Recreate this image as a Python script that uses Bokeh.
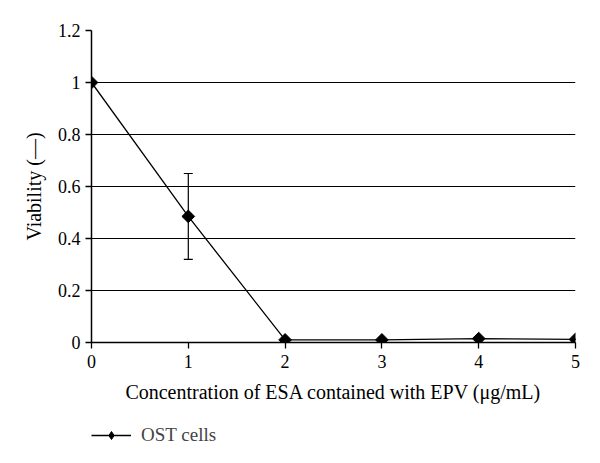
import math
from bokeh.plotting import figure
from bokeh.layouts import column
from bokeh.models import ColumnDataSource, Whisker, TeeHead, Legend, LegendItem, Range1d, FixedTicker
from bokeh.embed import file_html
from bokeh.resources import INLINE

conc = [0, 1, 2, 3, 4, 5]
viability = [1.0, 0.485, 0.01, 0.01, 0.015, 0.012]
err_lower = [1.0, 0.32, 0.01, 0.01, 0.015, 0.012]
err_upper = [1.0, 0.65, 0.01, 0.01, 0.015, 0.012]
x_ticks = [0, 1, 2, 3, 4, 5]
y_ticks = [0, 0.2, 0.4, 0.6, 0.8, 1.0, 1.2]
series_name = "OST cells"

FONT = "Liberation Serif"

p = figure(frame_width=484, frame_height=312, output_backend="svg", toolbar_location=None,
           x_range=Range1d(0, 5), y_range=Range1d(0, 1.2),
           min_border_left=91, min_border_right=17, min_border_top=30, min_border_bottom=68)
p.outline_line_color = None
p.background_fill_color = "white"

src = ColumnDataSource(dict(x=conc, y=viability, lo=err_lower, hi=err_upper))
w = Whisker(base="x", upper="hi", lower="lo", source=src, line_color="black", line_width=1.2,
            upper_head=TeeHead(size=9, line_color="black", line_width=1.2),
            lower_head=TeeHead(size=9, line_color="black", line_width=1.2))
p.add_layout(w)

ln = p.line("x", "y", source=src, line_color="black", line_width=1.3)
sc = p.scatter("x", "y", source=src, marker="square", angle=math.pi / 4, size=9,
               fill_color="black", line_color="black")

p.xgrid.visible = False
p.ygrid.grid_line_color = "black"
p.ygrid.grid_line_width = 1
p.ygrid.ticker = FixedTicker(ticks=y_ticks)

p.xaxis.ticker = FixedTicker(ticks=x_ticks)
p.yaxis.ticker = FixedTicker(ticks=y_ticks)
p.yaxis.major_label_overrides = {0: "0", 1.0: "1"}
for ax in (p.xaxis[0], p.yaxis[0]):
    ax.axis_line_color = "black"
    ax.axis_line_width = 1.5
    ax.major_tick_line_color = "black"
    ax.major_tick_line_width = 1.3
    ax.major_tick_in = 0
    ax.major_tick_out = 6
    ax.minor_tick_line_color = None
    ax.major_label_text_font = FONT
    ax.major_label_text_font_size = "18px"
    ax.major_label_text_color = "black"
    ax.axis_label_text_font = FONT
    ax.axis_label_text_font_size = "20px"
    ax.axis_label_text_font_style = "normal"
    ax.axis_label_text_color = "black"

p.xaxis.axis_label = "Concentration of ESA contained with EPV (\u03bcg/mL)"
p.yaxis.axis_label = "Viability (\u2014)"
p.xaxis.major_label_standoff = 6
p.xaxis.axis_label_standoff = 10
p.yaxis.major_label_standoff = 5
p.yaxis.axis_label_standoff = 10

# legend strip below the chart; its swatch renderers reuse the series source,
# but this strip's ranges keep the series itself out of view
lg = figure(width=592, height=44, output_backend="svg", toolbar_location=None,
            x_range=Range1d(100, 101), y_range=Range1d(100, 101),
            min_border_left=91, min_border_right=17, min_border_top=0, min_border_bottom=0)
lg.outline_line_color = None
lg.axis.visible = False
lg.grid.visible = False
sw_line = lg.line("x", "y", source=src, line_color="black", line_width=1.3)
sw_mark = lg.scatter("x", "y", source=src, marker="diamond", size=13,
                     fill_color="black", line_color="black")
legend = Legend(items=[LegendItem(label=series_name, renderers=[sw_line, sw_mark])],
                location=(0, 8), orientation="horizontal",
                label_text_font=FONT, label_text_font_size="19px",
                border_line_color=None, background_fill_alpha=0,
                glyph_width=40, label_standoff=10, margin=10, padding=0)
lg.add_layout(legend)

layout = column(p, lg, spacing=0)
open("out.html", "w").write(file_html(layout, INLINE))
